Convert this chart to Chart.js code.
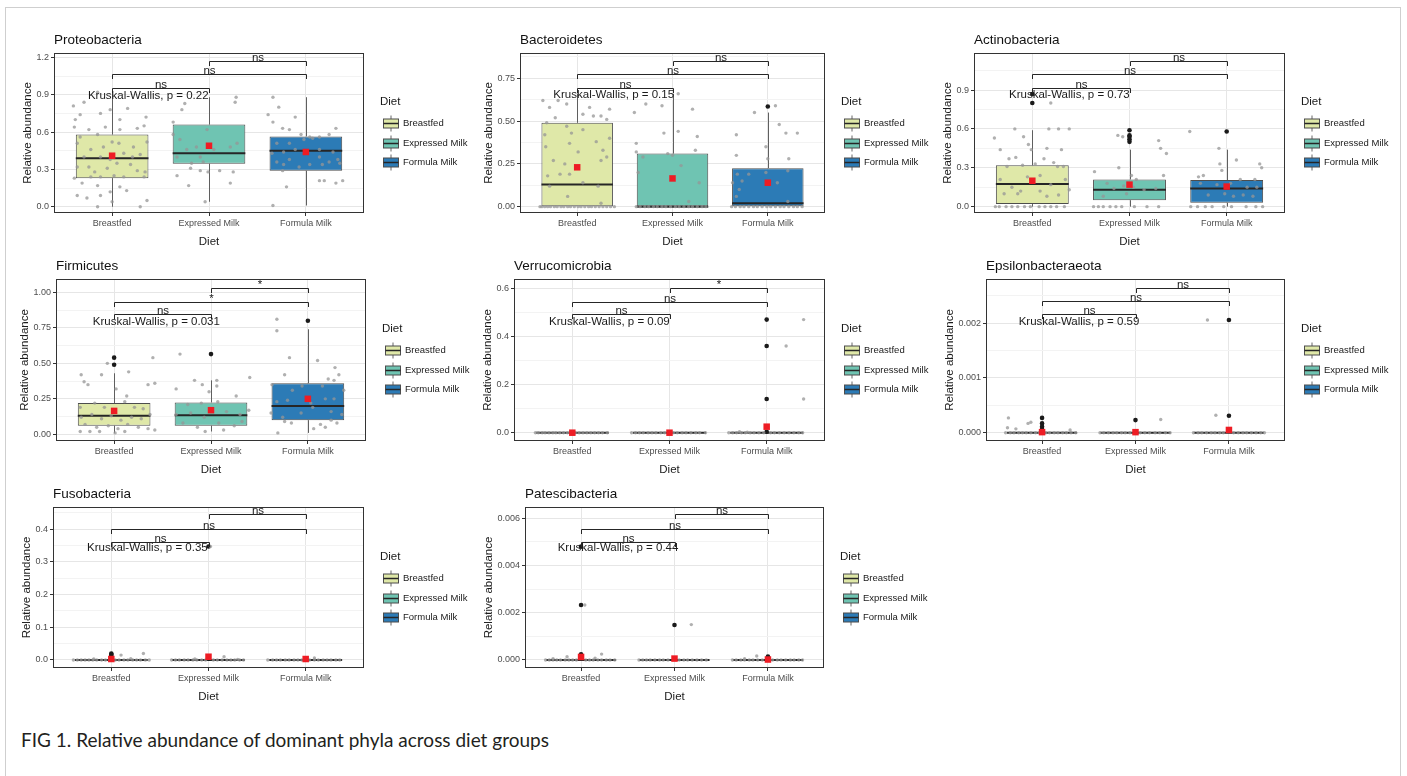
<!DOCTYPE html>
<html>
<head>
<meta charset="utf-8">
<script src="https://cdn.jsdelivr.net/npm/chart.js@4.4.1/dist/chart.umd.min.js"></script>
<style>
  html, body { margin: 0; padding: 0; background: #fff; }
  body { width: 1407px; height: 776px; position: relative; overflow: hidden; }
  #frame { position: absolute; left: 5px; top: 7px; width: 1394px; height: 800px; border: 1px solid #cfcfcf; }
  .panel { position: absolute; }
  #caption { position: absolute; left: 21px; top: 728px; font-family: Lato, "Open Sans", sans-serif; font-size: 19px; color: #231f20; white-space: nowrap; }
</style>
</head>
<body>
<div id="frame"></div>
<div id="caption">FIG 1. Relative abundance of dominant phyla across diet groups</div>
<script>
// groups on the x axis
const diets = ['Breastfed', 'Expressed Milk', 'Formula Milk'];

// ---- Proteobacteria ----
// box stats per diet: [lower whisker, q1, median, q3, upper whisker]
const proteoBox = [[0.0, 0.23, 0.39, 0.58, 0.92], [0.04, 0.345, 0.43, 0.66, 0.88], [0.01, 0.29, 0.45, 0.565, 0.88]];
const proteoMean = [0.41, 0.49, 0.44];
const proteoOut = [];
const proteoPts = [
  [0.60,0.81],[0.67,0.74],[0.62,0.70],[0.85,0.92],[0.71,0.84],[0.88,0.75],[0.98,0.78],[1.08,0.70],[1.16,0.79],[0.61,0.64],
  [0.76,0.62],[0.93,0.64],[1.08,0.62],[1.26,0.63],[1.35,0.72],[1.33,0.65],[0.67,0.56],[0.85,0.58],[1.00,0.52],[1.07,0.51],
  [0.64,0.51],[0.78,0.46],[0.91,0.48],[1.22,0.48],[1.36,0.52],[0.71,0.40],[0.88,0.40],[0.98,0.38],[1.12,0.43],[1.21,0.40],
  [1.29,0.42],[0.76,0.32],[0.64,0.32],[0.82,0.28],[0.95,0.31],[1.05,0.35],[1.19,0.34],[1.26,0.29],[1.34,0.28],[0.61,0.23],
  [0.78,0.24],[0.88,0.24],[1.02,0.25],[1.12,0.24],[1.33,0.24],[0.69,0.19],[0.85,0.17],[1.08,0.16],[1.15,0.13],[0.64,0.09],
  [0.74,0.07],[0.88,0.09],[0.98,0.12],[0.85,0.0],[1.29,0.0],[1.36,0.05],[1.0,0.04],
  [1.63,0.68],[1.72,0.78],[1.75,0.83],[2.28,0.88],[2.27,0.84],[1.63,0.58],[1.70,0.54],[1.98,0.62],[1.77,0.46],[1.87,0.48],
  [1.91,0.40],[2.05,0.46],[2.22,0.48],[2.29,0.51],[1.67,0.40],[1.82,0.35],[1.94,0.36],[1.81,0.31],[1.91,0.29],[1.99,0.28],
  [2.11,0.29],[2.25,0.28],[1.67,0.25],[2.22,0.19],[1.79,0.17],[1.96,0.04],
  [2.66,0.88],[2.72,0.80],[2.61,0.74],[2.89,0.72],[2.66,0.68],[2.76,0.63],[2.83,0.62],[3.31,0.63],[2.95,0.58],[3.04,0.56],
  [3.14,0.56],[3.24,0.58],[2.98,0.54],[3.07,0.55],[2.70,0.51],[2.83,0.51],[2.65,0.43],[2.77,0.44],[2.89,0.46],[3.14,0.46],
  [3.28,0.44],[2.70,0.36],[2.83,0.38],[3.14,0.40],[3.24,0.36],[3.33,0.38],[2.77,0.34],[2.93,0.32],[3.04,0.34],[3.17,0.34],
  [2.76,0.29],[3.35,0.35],[3.14,0.21],[3.19,0.21],[3.31,0.19],[3.38,0.21],[2.80,0.16],[2.66,0.01]
];
const proteoZeros = [];
const proteoTicks = [0, 0.3, 0.6, 0.9, 1.2];
// comparisons: [group a, group b, bracket height, label]
const proteoSig = [[1, 2, 0.951, 'ns'], [1, 3, 1.063, 'ns'], [2, 3, 1.173, 'ns']];
const proteoKW = [0.75, 0.889, 'Kruskal-Wallis, p = 0.22'];

// ---- Bacteroidetes ----
const bacteroBox = [[0, 0, 0.13, 0.49, 0.66], [0, 0, 0, 0.31, 0.66], [0, 0, 0.02, 0.225, 0.55]];
const bacteroMean = [0.23, 0.165, 0.14];
const bacteroOut = [[3, 0.585]];
const bacteroPts = [
  [0.64,0.62],[0.71,0.58],[0.80,0.62],[0.89,0.60],[1.13,0.58],[1.34,0.57],[1.25,0.53],[1.06,0.54],[1.17,0.53],[1.31,0.51],
  [0.68,0.49],[0.77,0.52],[0.89,0.47],[0.66,0.42],[0.94,0.43],[1.06,0.45],[1.20,0.38],[1.34,0.40],[0.92,0.37],[0.67,0.35],
  [1.27,0.33],[1.01,0.32],[0.75,0.27],[0.87,0.25],[0.92,0.19],[0.82,0.19],[0.69,0.18],[1.25,0.27],[1.31,0.29],[1.22,0.12],
  [0.71,0.12],[0.90,0.06],[1.06,0.14],[1.25,0.02],
  [2.06,0.66],[2.21,0.57],[1.60,0.55],[1.72,0.60],[1.89,0.59],[1.91,0.43],[2.06,0.44],[2.26,0.41],[1.62,0.37],[2.24,0.33],
  [1.62,0.32],[1.69,0.29],[1.95,0.31],[2.00,0.30],[2.09,0.24],[1.64,0.20],[2.28,0.14],[2.17,0.03],
  [3.08,0.59],[2.86,0.55],[3.12,0.48],[2.67,0.42],[3.19,0.43],[3.31,0.43],[2.67,0.30],[2.98,0.35],[3.00,0.28],[3.22,0.28],
  [2.68,0.19],[2.80,0.19],[2.98,0.20],[3.21,0.21],[2.63,0.14],[2.70,0.10],[2.73,0.15],[2.67,0.06],[3.10,0.14],[3.21,0.03]
];
const bacteroZeros = [0.61,0.63,0.66,0.69,0.72,0.76,0.79,0.83,0.86,0.90,0.93,0.97,1.01,1.04,1.08,1.12,1.15,1.19,1.23,1.27,1.31,1.35,1.39,
  1.62,1.66,1.71,1.75,1.80,1.84,1.89,1.93,1.98,2.03,2.07,2.12,2.17,2.21,2.26,2.31,2.35,
  2.62,2.66,2.71,2.75,2.80,2.85,2.89,2.94,2.99,3.03,3.08,3.13,3.17,3.22,3.27,3.31,3.36];
const bacteroTicks = [0, 0.25, 0.5, 0.75];
const bacteroSig = [[1, 2, 0.695, 'ns'], [1, 3, 0.775, 'ns'], [2, 3, 0.853, 'ns']];
const bacteroKW = [0.75, 0.653, 'Kruskal-Wallis, p = 0.15'];

// ---- Actinobacteria ----
const actinoBox = [[0, 0.02, 0.175, 0.32, 0.59], [0, 0.05, 0.13, 0.21, 0.44], [0, 0.03, 0.14, 0.205, 0.44]];
const actinoMean = [0.20, 0.17, 0.155];
const actinoOut = [[1, 0.80], [1, 0.87], [2, 0.50], [2, 0.52], [2, 0.54], [2, 0.55], [2, 0.59], [3, 0.58]];
const actinoPts = [
  [0.61,0.53],[0.67,0.44],[0.82,0.60],[0.91,0.54],[0.96,0.48],[0.99,0.44],[1.17,0.60],[1.27,0.60],[1.38,0.60],[1.15,0.45],
  [1.30,0.44],[1.19,0.80],[0.76,0.37],[0.83,0.38],[1.12,0.37],[0.90,0.32],[1.03,0.33],[1.26,0.31],[1.32,0.31],[0.67,0.21],
  [0.79,0.15],[0.85,0.10],[0.88,0.12],[0.95,0.23],[1.08,0.24],[1.19,0.17],[1.27,0.09],[1.34,0.21],[0.71,0.10],[1.08,0.12],
  [1.15,0.08],[1.38,0.13],[0.74,0.31],[1.22,0.34],
  [1.64,0.27],[1.89,0.30],[1.88,0.55],[1.93,0.54],[2.30,0.51],[2.32,0.45],[2.38,0.41],[2.02,0.24],[2.07,0.21],[2.35,0.24],
  [1.77,0.18],[1.84,0.14],[1.94,0.16],[2.04,0.15],[2.15,0.13],[2.27,0.14],[1.97,0.10],[1.73,0.08],
  [2.62,0.58],[2.71,0.23],[2.76,0.24],[2.73,0.18],[2.81,0.09],[2.92,0.45],[2.93,0.33],[2.95,0.28],[3.10,0.36],[3.34,0.33],
  [3.36,0.30],[2.90,0.17],[3.04,0.18],[3.14,0.21],[3.21,0.15],[3.29,0.21],[3.31,0.15],[2.98,0.10],[3.07,0.08],[3.17,0.09],[3.27,0.08]
];
const actinoZeros = [0.62,0.66,0.73,0.79,0.85,0.92,0.98,1.07,1.13,1.19,1.25,1.33,
  1.63,1.68,1.73,1.80,1.86,1.92,2.05,2.18,2.30,
  2.63,2.70,2.78,2.85,2.97,3.05,3.20,3.30,3.37];
const actinoTicks = [0, 0.3, 0.6, 0.9];
const actinoSig = [[1, 2, 0.918, 'ns'], [1, 3, 1.023, 'ns'], [2, 3, 1.126, 'ns']];
const actinoKW = [0.76, 0.861, 'Kruskal-Wallis, p = 0.73'];

// ---- Firmicutes ----
const firmiBox = [[0.01, 0.06, 0.13, 0.22, 0.43], [0.02, 0.06, 0.135, 0.225, 0.38], [0.01, 0.10, 0.20, 0.36, 0.74]];
const firmiMean = [0.165, 0.17, 0.25];
const firmiOut = [[1, 0.49], [1, 0.54], [2, 0.565], [3, 0.80]];
const firmiPts = [
  [0.66,0.42],[0.69,0.37],[0.73,0.35],[0.87,0.42],[0.93,0.50],[1.02,0.32],[1.13,0.27],[1.15,0.44],[1.40,0.54],[1.35,0.35],
  [1.42,0.36],[0.65,0.19],[0.80,0.22],[0.90,0.19],[1.11,0.23],[1.21,0.19],[1.30,0.18],[0.66,0.12],[0.77,0.14],[0.87,0.11],
  [0.97,0.13],[1.07,0.10],[1.18,0.12],[1.28,0.11],[1.37,0.14],[0.70,0.07],[0.82,0.05],[0.94,0.06],[1.04,0.04],[1.14,0.07],
  [1.25,0.05],[1.35,0.04],[0.65,0.02],[0.75,0.02],[0.85,0.02],[1.01,0.01],[1.11,0.02],[1.42,0.03],
  [1.68,0.565],[1.83,0.38],[1.91,0.35],[2.06,0.38],[2.40,0.40],[1.98,0.30],[2.06,0.34],[1.64,0.32],[1.76,0.21],[1.90,0.22],
  [2.07,0.23],[2.26,0.27],[1.64,0.14],[1.79,0.15],[1.93,0.12],[2.16,0.16],[2.30,0.14],[2.39,0.17],[1.71,0.08],[1.86,0.05],
  [2.08,0.08],[2.24,0.06],[2.32,0.09],[1.94,0.02],[2.13,0.03],
  [2.68,0.81],[2.68,0.73],[2.81,0.54],[2.76,0.42],[3.10,0.52],[3.28,0.47],[3.32,0.42],[3.21,0.39],[3.27,0.38],[2.63,0.35],
  [2.84,0.31],[2.94,0.34],[3.15,0.34],[3.37,0.31],[2.68,0.23],[2.79,0.24],[3.03,0.22],[3.18,0.25],[3.27,0.25],[2.62,0.15],
  [2.74,0.12],[2.93,0.15],[3.05,0.19],[3.24,0.16],[3.35,0.14],[2.76,0.09],[2.83,0.08],[3.13,0.07],[3.24,0.10],[3.30,0.08],
  [2.69,0.01],[3.06,0.04],[3.18,0.05]
];
const firmiZeros = [];
const firmiTicks = [0, 0.25, 0.5, 0.75, 1.0];
const firmiSig = [[1, 2, 0.847, 'ns'], [1, 3, 0.934, '*'], [2, 3, 1.028, '*']];
const firmiKW = [0.78, 0.793, 'Kruskal-Wallis, p = 0.031'];

// ---- Verrucomicrobia ----
const verruBox = [[0, 0, 0, 0, 0], [0, 0, 0, 0, 0], [0, 0, 0, 0, 0]];
const verruMean = [0, 0, 0.025];
const verruOut = [[3, 0.14], [3, 0.36], [3, 0.47], [3, 0.004]];
const verruPts = [[3.20, 0.36], [3.38, 0.47], [3.38, 0.14], [2.72, 0.004], [2.80, 0.002]];
const verruZeros = [0.62,0.65,0.69,0.72,0.76,0.80,0.83,0.87,0.91,0.95,0.98,1.03,1.07,1.11,1.15,1.19,1.23,1.27,1.31,1.36,
  1.61,1.65,1.69,1.73,1.78,1.82,1.86,1.91,1.95,2.04,2.08,2.13,2.17,2.22,2.27,2.31,2.37,
  2.61,2.65,2.69,2.74,2.78,2.83,2.87,2.92,2.97,3.04,3.08,3.13,3.18,3.23,3.28,3.33,3.37];
const verruTicks = [0, 0.2, 0.4, 0.6];
const verruSig = [[1, 2, 0.493, 'ns'], [1, 3, 0.544, 'ns'], [2, 3, 0.600, '*']];
const verruKW = [0.76, 0.461, 'Kruskal-Wallis, p = 0.09'];

// ---- Epsilonbacteraeota ----
const epsilonBox = [[0, 0, 0, 0, 0], [0, 0, 0, 0, 0], [0, 0, 0, 0, 0]];
const epsilonMean = [0.00001, 0.00001, 0.00005];
const epsilonOut = [[1, 0.00027], [1, 0.00017], [1, 0.00011], [1, 0.00006], [2, 0.00023], [3, 0.00031], [3, 0.00206]];
const epsilonPts = [[0.64,0.00027],[0.63,0.00009],[0.72,0.00007],[0.85,0.00017],[0.88,0.00019],[1.30,0.00005],
  [2.27,0.00024],[2.77,0.00206],[2.86,0.00032]];
const epsilonZeros = [0.61,0.66,0.70,0.75,0.79,0.83,0.88,0.93,0.97,1.04,1.08,1.13,1.17,1.22,1.26,1.31,1.36,
  1.62,1.66,1.71,1.76,1.80,1.85,1.89,1.94,2.05,2.10,2.15,2.21,2.26,2.32,2.37,
  2.62,2.67,2.71,2.76,2.81,2.85,2.90,2.94,3.05,3.10,3.15,3.19,3.24,3.29,3.34,3.38];
const epsilonTicks = [0, 0.001, 0.002];
const epsilonSig = [[1, 2, 0.00217, 'ns'], [1, 3, 0.0024, 'ns'], [2, 3, 0.00264, 'ns']];
const epsilonKW = [0.75, 0.00203, 'Kruskal-Wallis, p = 0.59'];

// ---- Fusobacteria ----
const fusoBox = [[0, 0, 0, 0, 0], [0, 0, 0, 0, 0], [0, 0, 0, 0, 0]];
const fusoMean = [0.003, 0.010, 0.003];
const fusoOut = [[1, 0.012], [1, 0.017], [1, 0.02], [2, 0.347], [2, 0.004]];
const fusoPts = [[1.10,0.015],[1.33,0.02],[2.16,0.01],[3.09,0.006],[2.02,0.347],[0.82,0.003],[1.20,0.004],[1.86,0.003],[2.30,0.002]];
const fusoZeros = [0.61,0.65,0.69,0.73,0.77,0.81,0.85,0.90,0.94,0.98,1.04,1.08,1.13,1.17,1.22,1.26,1.30,1.35,1.39,
  1.62,1.66,1.70,1.75,1.79,1.84,1.88,1.93,1.97,2.05,2.09,2.14,2.19,2.23,2.27,2.32,2.36,
  2.61,2.66,2.70,2.74,2.79,2.83,2.88,2.92,2.96,3.04,3.09,3.13,3.18,3.22,3.26,3.31,3.35];
const fusoTicks = [0, 0.1, 0.2, 0.3, 0.4];
const fusoSig = [[1, 2, 0.362, 'ns'], [1, 3, 0.401, 'ns'], [2, 3, 0.446, 'ns']];
const fusoKW = [0.75, 0.342, 'Kruskal-Wallis, p = 0.35'];

// ---- Patescibacteria ----
const patesciBox = [[0, 0, 0, 0, 0], [0, 0, 0, 0, 0], [0, 0, 0, 0, 0]];
const patesciMean = [0.00013, 0.00006, 0.00002];
const patesciOut = [[1, 0.0048], [1, 0.00233], [1, 0.00024], [1, 0.00018], [2, 0.00148], [3, 0.00015]];
const patesciPts = [[1.04,0.00233],[1.22,0.00025],[0.85,0.00014],[2.18,0.0015],[2.88,0.00017],[0.70,0.00006],[1.15,0.00008],[2.75,0.00005]];
const patesciZeros = [0.62,0.66,0.70,0.74,0.78,0.83,0.87,0.91,0.95,1.05,1.09,1.13,1.18,1.22,1.27,1.31,1.36,
  1.62,1.66,1.70,1.74,1.79,1.84,1.88,1.93,2.05,2.10,2.14,2.19,2.24,2.29,2.34,
  2.62,2.66,2.71,2.75,2.80,2.84,2.89,2.94,3.05,3.10,3.14,3.19,3.24,3.28,3.33,3.37];
const patesciTicks = [0, 0.002, 0.004, 0.006];
const patesciSig = [[1, 2, 0.00501, 'ns'], [1, 3, 0.00555, 'ns'], [2, 3, 0.00617, 'ns']];
const patesciKW = [0.75, 0.00473, 'Kruskal-Wallis, p = 0.44'];

// styling
const dietColors = ['#dfe8a8', '#6fc4b2', '#2c7bb6'];
const FONT = '"Liberation Sans", Arial, sans-serif';
Chart.defaults.font.family = FONT;

// panel layout: frame = [left, top, right, bottom] of the plotting area in page pixels
const panels = [
  { title: 'Proteobacteria', frame: [54, 53, 364, 213], y: [-0.05, 1.235], dec: 1, box: proteoBox, mean: proteoMean, out: proteoOut, pts: proteoPts, zeros: proteoZeros, ticks: proteoTicks, sig: proteoSig, kw: proteoKW },
  { title: 'Bacteroidetes', frame: [520, 53, 825, 213], y: [-0.037, 0.898], dec: 2, box: bacteroBox, mean: bacteroMean, out: bacteroOut, pts: bacteroPts, zeros: bacteroZeros, ticks: bacteroTicks, sig: bacteroSig, kw: bacteroKW },
  { title: 'Actinobacteria', frame: [974, 53, 1285, 213], y: [-0.049, 1.186], dec: 1, box: actinoBox, mean: actinoMean, out: actinoOut, pts: actinoPts, zeros: actinoZeros, ticks: actinoTicks, sig: actinoSig, kw: actinoKW },
  { title: 'Firmicutes', frame: [56, 279, 366, 441], y: [-0.047, 1.094], dec: 2, box: firmiBox, mean: firmiMean, out: firmiOut, pts: firmiPts, zeros: firmiZeros, ticks: firmiTicks, sig: firmiSig, kw: firmiKW },
  { title: 'Verrucomicrobia', frame: [514, 279, 825, 441], y: [-0.0345, 0.6386], dec: 1, box: verruBox, mean: verruMean, out: verruOut, pts: verruPts, zeros: verruZeros, ticks: verruTicks, sig: verruSig, kw: verruKW },
  { title: 'Epsilonbacteraeota', frame: [986, 279, 1285, 441], y: [-0.000152, 0.00281], dec: 3, box: epsilonBox, mean: epsilonMean, out: epsilonOut, pts: epsilonPts, zeros: epsilonZeros, ticks: epsilonTicks, sig: epsilonSig, kw: epsilonKW },
  { title: 'Fusobacteria', frame: [53, 507, 364, 668], y: [-0.0245, 0.468], dec: 1, box: fusoBox, mean: fusoMean, out: fusoOut, pts: fusoPts, zeros: fusoZeros, ticks: fusoTicks, sig: fusoSig, kw: fusoKW },
  { title: 'Patescibacteria', frame: [525, 507, 824, 668], y: [-0.000339, 0.00648], dec: 3, box: patesciBox, mean: patesciMean, out: patesciOut, pts: patesciPts, zeros: patesciZeros, ticks: patesciTicks, sig: patesciSig, kw: patesciKW }
];

const PAD_L = 50, PAD_T = 35, PAD_R = 115, PAD_B = 40;

// major ticks plus minor ones half way between (ggplot style grid)
function buildTicks(p) {
  const t = p.ticks;
  const step = t[1] - t[0];
  const out = [];
  if (t[0] - step / 2 >= p.y[0]) out.push({ value: t[0] - step / 2, minor: true });
  t.forEach((v, i) => {
    out.push({ value: v, minor: false });
    const m = v + step / 2;
    if (i < t.length - 1 || m <= p.y[1]) out.push({ value: m, minor: true });
  });
  return out.filter(o => o.value <= p.y[1]);
}

function extrasPlugin(p) {
  return {
    id: 'boxExtras',
    // whiskers + medians right after the boxes themselves
    afterDatasetDraw(chart, args) {
      const ds = chart.data.datasets[args.index];
      if (!ds.stats) return;
      const ctx = chart.ctx, y = chart.scales.y;
      ctx.save();
      args.meta.data.forEach((bar, i) => {
        const [lo, q1, med, q3, hi] = ds.stats[i];
        const { x, width } = bar.getProps(['x', 'width'], true);
        const cx = Math.round(x) + 0.5;
        ctx.strokeStyle = '#5f5f5f';
        ctx.lineWidth = 1;
        ctx.beginPath();
        ctx.moveTo(cx, y.getPixelForValue(lo)); ctx.lineTo(cx, y.getPixelForValue(q1));
        ctx.moveTo(cx, y.getPixelForValue(q3)); ctx.lineTo(cx, y.getPixelForValue(hi));
        ctx.stroke();
        const my = y.getPixelForValue(med);
        ctx.strokeStyle = '#262626';
        ctx.lineWidth = 2;
        ctx.beginPath();
        ctx.moveTo(x - width / 2, my); ctx.lineTo(x + width / 2, my);
        ctx.stroke();
      });
      ctx.restore();
    },
    // significance brackets and the Kruskal-Wallis label
    afterDatasetsDraw(chart) {
      const { ctx, chartArea: a, scales: { x, y } } = chart;
      ctx.save();
      ctx.beginPath();
      ctx.rect(a.left, a.top, a.right - a.left, a.bottom - a.top);
      ctx.clip();
      ctx.strokeStyle = '#262626';
      ctx.fillStyle = '#1a1a1a';
      ctx.lineWidth = 1;
      ctx.font = '11.5px ' + FONT;
      ctx.textAlign = 'center';
      ctx.textBaseline = 'alphabetic';
      p.sig.forEach(([g1, g2, v, label]) => {
        const x1 = Math.round(x.getPixelForValue(g1)) + 0.5;
        const x2 = Math.round(x.getPixelForValue(g2)) + 0.5;
        const yy = Math.round(y.getPixelForValue(v)) + 0.5;
        ctx.beginPath();
        ctx.moveTo(x1, yy + 4.5); ctx.lineTo(x1, yy); ctx.lineTo(x2, yy); ctx.lineTo(x2, yy + 4.5);
        ctx.stroke();
        ctx.fillText(label, (x1 + x2) / 2, yy - 1);
      });
      ctx.textAlign = 'left';
      ctx.textBaseline = 'middle';
      ctx.fillText(p.kw[2], x.getPixelForValue(p.kw[0]), y.getPixelForValue(p.kw[1]));
      ctx.restore();
    },
    // panel border, title and the Diet legend
    afterDraw(chart) {
      const { ctx, chartArea: a } = chart;
      ctx.save();
      ctx.strokeStyle = '#333333';
      ctx.lineWidth = 1;
      ctx.strokeRect(a.left + 0.5, a.top + 0.5, a.right - a.left - 1, a.bottom - a.top - 1);

      ctx.fillStyle = '#111111';
      ctx.font = '13.5px ' + FONT;
      ctx.textBaseline = 'middle';
      ctx.textAlign = 'left';
      ctx.fillText(p.title, a.left, a.top - 13);

      const cy = (a.top + a.bottom) / 2;
      const lx = a.right + 16;
      ctx.fillStyle = '#1a1a1a';
      ctx.font = '11.5px ' + FONT;
      ctx.fillText('Diet', lx, cy - 31);
      const keyY = [cy - 10, cy + 10, cy + 29];
      diets.forEach((d, i) => {
        const ky = Math.round(keyY[i]) + 0.5;
        const kx = Math.round(lx + 3) + 0.5;
        const kw = 15, kh = 9, mid = kx + 7.5;
        ctx.strokeStyle = '#666666';
        ctx.lineWidth = 1;
        ctx.beginPath();
        ctx.moveTo(mid, ky - kh / 2 - 3.5); ctx.lineTo(mid, ky - kh / 2);
        ctx.moveTo(mid, ky + kh / 2); ctx.lineTo(mid, ky + kh / 2 + 3.5);
        ctx.stroke();
        ctx.fillStyle = dietColors[i];
        ctx.fillRect(kx, ky - kh / 2, kw, kh);
        ctx.strokeStyle = '#4d4d4d';
        ctx.strokeRect(kx, ky - kh / 2, kw, kh);
        ctx.strokeStyle = '#262626';
        ctx.lineWidth = 1.5;
        ctx.beginPath();
        ctx.moveTo(kx, ky); ctx.lineTo(kx + kw, ky);
        ctx.stroke();
        ctx.fillStyle = '#1a1a1a';
        ctx.font = '9.5px ' + FONT;
        ctx.fillText(d, lx + 23, ky);
      });
      ctx.restore();
    }
  };
}

function makePanel(p) {
  const [L, T, R, B] = p.frame;
  const w = R - L + PAD_L + PAD_R, h = B - T + PAD_T + PAD_B;
  const cv = document.createElement('canvas');
  cv.className = 'panel';
  cv.width = w; cv.height = h;
  cv.style.width = w + 'px'; cv.style.height = h + 'px';
  cv.style.left = (L - PAD_L) + 'px';
  cv.style.top = (T - PAD_T) + 'px';
  document.body.appendChild(cv);

  const yTicks = buildTicks(p);
  const jitter = p.pts.map(([x, y]) => ({ x, y })).concat(p.zeros.map(x => ({ x, y: 0 })));
  // the y title sits left of the tick labels, so wider labels push it outwards
  const titleOffset = 21.5 + 5 * p.dec;

  new Chart(cv, {
    type: 'bar',
    data: {
      datasets: [
        { type: 'scatter', label: 'mean', data: p.mean.map((v, i) => ({ x: i + 1, y: v })),
          pointStyle: 'rect', pointRadius: 4.6, backgroundColor: '#ee1c24', borderWidth: 0 },
        { type: 'scatter', label: 'samples', data: jitter,
          pointRadius: 1.7, backgroundColor: 'rgba(150,150,150,0.75)', borderWidth: 0 },
        { type: 'scatter', label: 'outliers', data: p.out.map(([g, v]) => ({ x: g, y: v })),
          pointRadius: 2.3, backgroundColor: '#1a1a1a', borderWidth: 0 },
        { type: 'bar', label: 'box', data: p.box.map((s, i) => ({ x: i + 1, y: [s[1], s[3]] })),
          backgroundColor: dietColors, borderColor: '#4d4d4d', borderWidth: 1, borderSkipped: false,
          barPercentage: 0.75, categoryPercentage: 1, grouped: false, stats: p.box }
      ]
    },
    options: {
      responsive: false,
      animation: false,
      devicePixelRatio: 1,
      layout: { padding: { left: 0, top: PAD_T, right: PAD_R, bottom: 0 } },
      plugins: { legend: { display: false }, tooltip: { enabled: false }, title: { display: false } },
      scales: {
        x: {
          type: 'linear', min: 0.4, max: 3.6, offset: false,
          afterBuildTicks: s => { s.ticks = [1, 2, 3].map(v => ({ value: v })); },
          afterFit: s => { s.height = PAD_B; },
          border: { display: false },
          grid: { offset: false, color: '#e6e6e6', lineWidth: 1, tickLength: 3, tickColor: '#333333' },
          ticks: { callback: v => diets[Math.round(v) - 1], maxRotation: 0, autoSkip: false, padding: 2,
                   color: '#4d4d4d', font: { size: 9 } },
          title: { display: true, text: 'Diet', color: '#1a1a1a', font: { size: 11.5 }, padding: { top: 0, bottom: 4 } }
        },
        y: {
          type: 'linear', min: p.y[0], max: p.y[1],
          afterBuildTicks: s => { s.ticks = yTicks.map(t => ({ value: t.value, minor: t.minor })); },
          afterFit: s => { s.width = PAD_L; },
          border: { display: false },
          grid: {
            color: c => (c.tick && c.tick.minor) ? '#f3f3f3' : '#e6e6e6',
            tickColor: c => (c.tick && c.tick.minor) ? 'rgba(0,0,0,0)' : '#333333',
            tickLength: 3
          },
          ticks: { callback: (v, i, t) => (t[i] && t[i].minor) ? '' : v.toFixed(p.dec), autoSkip: false,
                   padding: 2, color: '#4d4d4d', font: { size: 9 } },
          title: { display: true, text: 'Relative abundance', color: '#1a1a1a', font: { size: 11.5 },
                   padding: { top: PAD_L - titleOffset - 6.9, bottom: 0 } }
        }
      }
    },
    plugins: [extrasPlugin(p)]
  });
}

panels.forEach(makePanel);
</script>
</body>
</html>
